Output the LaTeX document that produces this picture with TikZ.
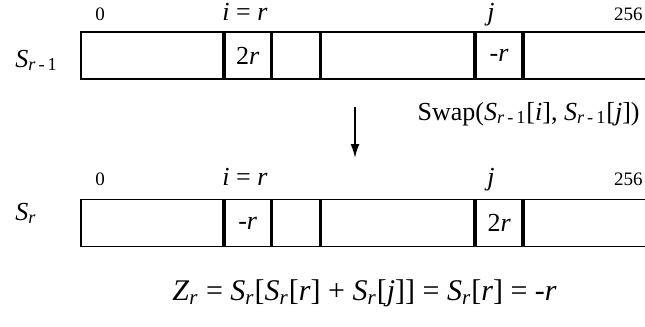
\documentclass[tikz,border=0pt]{standalone}
\usepackage{fontspec}
\setmainfont{Liberation Serif}
\usetikzlibrary{arrows.meta, positioning}

\newcommand{\Sidx}[2]{\textit{#1}\textsubscript{#2}}

\begin{document}
\begin{tikzpicture}[x=0.5pt, y=-0.5pt,
    cell/.style={draw, line width=0.9pt, minimum height=23.5pt, inner sep=0pt, font=\fontsize{13}{15}\selectfont},
    lbl/.style={anchor=base, inner sep=0pt, font=\fontsize{13}{15}\selectfont},
    idx/.style={anchor=base, inner sep=0pt, font=\fontsize{9.5}{11}\selectfont}]
    \useasboundingbox (0,0) rectangle (645,327);
    % state before the swap
    \node[lbl, anchor=base west] (nprev) at (15,67) {\Sidx{S}{\textit{r}\,-\,1}};
    \node[cell, minimum width=71pt, anchor=west] (a0) at (80,55.5) {};
    \node[cell, minimum width=23pt, right=0pt of a0] (a1) {2\textit{r}};
    \node[cell, minimum width=23.5pt, right=0pt of a1] (a2) {};
    \node[cell, minimum width=76.5pt, right=0pt of a2] (a3) {};
    \node[cell, minimum width=23pt, right=0pt of a3] (a4) {-\textit{r}};
    \node[cell, minimum width=64pt, right=0pt of a4] (a5) {};
    \node[idx] (p0) at (100,20) {0};
    \node[lbl] (pi) at (245,20) {\textit{i} = \textit{r}};
    \node[lbl] (pj) at (491,20) {\textit{j}};
    \node[idx, anchor=base east] (pn) at (643,20) {256};
    % swap step
    \coordinate (from) at (355,107);
    \coordinate (to) at (355,158);
    \draw[-{Latex[length=7pt, width=4.5pt]}, line width=0.9pt] (from) -- (to);
    \node[lbl, anchor=base east] (swap) at (640,120) {Swap(\Sidx{S}{\textit{r}\,-\,1}[\textit{i}], \Sidx{S}{\textit{r}\,-\,1}[\textit{j}])};
    % state after the swap
    \node[lbl, anchor=base west] (ncur) at (15,220) {\Sidx{S}{\textit{r}}};
    \node[cell, minimum width=71pt, anchor=west] (b0) at (80,223) {};
    \node[cell, minimum width=23pt, right=0pt of b0] (b1) {-\textit{r}};
    \node[cell, minimum width=23.5pt, right=0pt of b1] (b2) {};
    \node[cell, minimum width=76.5pt, right=0pt of b2] (b3) {};
    \node[cell, minimum width=23pt, right=0pt of b3] (b4) {2\textit{r}};
    \node[cell, minimum width=64pt, right=0pt of b4] (b5) {};
    \node[idx] (q0) at (100,185) {0};
    \node[lbl] (qi) at (245,185) {\textit{i} = \textit{r}};
    \node[lbl] (qj) at (491,185) {\textit{j}};
    \node[idx, anchor=base east] (qn) at (643,185) {256};
    % output
    \node[anchor=base west, inner sep=0pt, font=\fontsize{15}{18}\selectfont] (zr) at (172,300)
        {\Sidx{Z}{\textit{r}} = \Sidx{S}{\textit{r}}[\Sidx{S}{\textit{r}}[\textit{r}] + \Sidx{S}{\textit{r}}[\textit{j}]] = \Sidx{S}{\textit{r}}[\textit{r}] = -\textit{r}};
\end{tikzpicture}
\end{document}
